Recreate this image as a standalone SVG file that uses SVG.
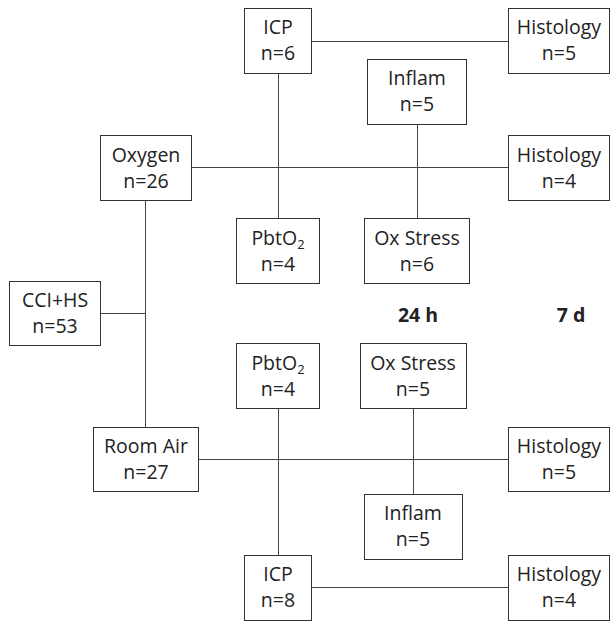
<svg xmlns="http://www.w3.org/2000/svg" width="610" height="622" viewBox="0 0 610 622">
<style>
rect{fill:#fff;stroke:#333;stroke-width:1}
.c line{stroke:#444;stroke-width:1}
text{font-family:"Open Sans","Liberation Sans",sans-serif;font-size:19.5px;fill:#222;text-anchor:middle}
.b{font-weight:bold}
.s{font-size:13px}
</style>
<rect x="0" y="0" width="610" height="622" style="fill:#fff;stroke:none"/>
<g class="c" id="connectors">
<line x1="311" y1="41.5" x2="508" y2="41.5"/>
<line x1="278.5" y1="73" x2="278.5" y2="218"/>
<line x1="417.5" y1="124" x2="417.5" y2="218"/>
<line x1="191" y1="167.5" x2="508" y2="167.5"/>
<line x1="145.5" y1="200" x2="145.5" y2="427"/>
<line x1="100" y1="313.5" x2="145.5" y2="313.5"/>
<line x1="278.5" y1="408" x2="278.5" y2="555"/>
<line x1="413.5" y1="408" x2="413.5" y2="494"/>
<line x1="198" y1="459.5" x2="508" y2="459.5"/>
<line x1="311" y1="587.5" x2="508" y2="587.5"/>
</g>
<g id="icp1"><rect x="244.5" y="8.5" width="67" height="65"/><text x="278" y="34">ICP</text><text x="278" y="60">n=6</text></g>
<g id="hist1"><rect x="508.5" y="8.5" width="101" height="65"/><text x="559" y="34">Histology</text><text x="559" y="60">n=5</text></g>
<g id="inflam1"><rect x="367.5" y="59.5" width="99" height="65"/><text x="417" y="85">Inflam</text><text x="417" y="111">n=5</text></g>
<g id="oxygen"><rect x="100.5" y="135.5" width="91" height="65"/><text x="146" y="162">Oxygen</text><text x="146" y="188">n=26</text></g>
<g id="hist2"><rect x="508.5" y="135.5" width="101" height="65"/><text x="559" y="162">Histology</text><text x="559" y="188">n=4</text></g>
<g id="pbto2a"><rect x="236.5" y="218.5" width="83" height="65"/><text x="278" y="245">PbtO<tspan class="s" dy="4">2</tspan></text><text x="278" y="271">n=4</text></g>
<g id="oxstress1"><rect x="364.5" y="218.5" width="105" height="65"/><text x="417" y="245">Ox Stress</text><text x="417" y="271">n=6</text></g>
<g id="cci"><rect x="9.5" y="281.5" width="91" height="64"/><text x="55" y="307">CCI+HS</text><text x="55" y="333">n=53</text></g>
<g id="lbl24h"><text class="b" x="418" y="322">24 h</text></g>
<g id="lbl7d"><text class="b" x="571" y="322">7 d</text></g>
<g id="pbto2b"><rect x="236.5" y="343.5" width="83" height="65"/><text x="278" y="370">PbtO<tspan class="s" dy="4">2</tspan></text><text x="278" y="396">n=4</text></g>
<g id="oxstress2"><rect x="360.5" y="343.5" width="106" height="65"/><text x="413" y="370">Ox Stress</text><text x="413" y="396">n=5</text></g>
<g id="roomair"><rect x="93.5" y="427.5" width="105" height="64"/><text x="146" y="453">Room Air</text><text x="146" y="479">n=27</text></g>
<g id="hist3"><rect x="508.5" y="427.5" width="101" height="64"/><text x="559" y="453">Histology</text><text x="559" y="479">n=5</text></g>
<g id="inflam2"><rect x="364.5" y="494.5" width="98" height="65"/><text x="413" y="520">Inflam</text><text x="413" y="546">n=5</text></g>
<g id="icp2"><rect x="244.5" y="555.5" width="67" height="65"/><text x="278" y="581">ICP</text><text x="278" y="607">n=8</text></g>
<g id="hist4"><rect x="508.5" y="555.5" width="101" height="65"/><text x="559" y="581">Histology</text><text x="559" y="607">n=4</text></g>
</svg>
